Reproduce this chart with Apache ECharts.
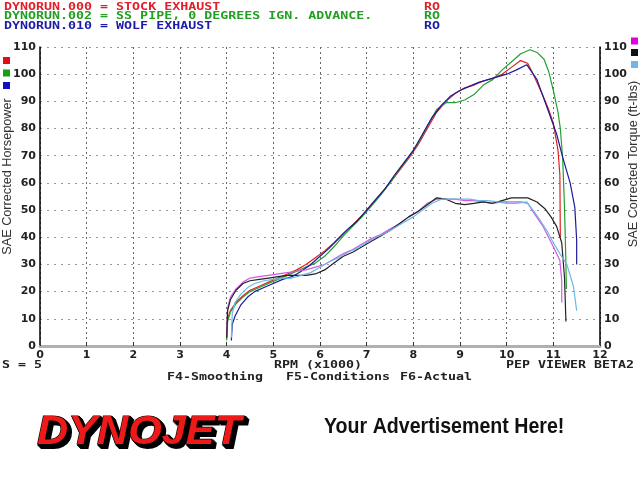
<!DOCTYPE html>
<html><head><meta charset="utf-8">
<script src="https://cdn.jsdelivr.net/npm/echarts@6/dist/echarts.min.js"></script>
<style>html,body{margin:0;padding:0;background:#fff}#c{width:640px;height:480px}</style>
</head><body><div id="c"></div>
<script>
// ---- data ----
const xTicks = [0,1,2,3,4,5,6,7,8,9,10,11,12];
const yTicks = [0,10,20,30,40,50,60,70,80,90,100,110];

const rpmRed = [4.0,4.02,4.08,4.2,4.35,4.5,4.7,4.9,5.1,5.3,5.5,5.7,5.9,6.1,6.3,6.5,6.7,6.9,7.1,7.3,7.5,7.7,7.9,8.1,8.3,8.5,8.7,8.9,9.1,9.3,9.5,9.7,9.9,10.1,10.3,10.45,10.57,10.78,10.9,11.0,11.1,11.14,11.15];
const hpRed  = [3,10,13,16,18.5,20.5,22,23.5,25,26.5,28,30,32.5,35,38,41.5,44.5,48,52,56,60,64.5,69,74,80,86,90,93,95,96,97.5,98.5,100,102.5,105,104,100,92,87,82,72,63,40];

const rpmGreen = [4.0,4.02,4.08,4.2,4.35,4.5,4.7,4.9,5.1,5.3,5.5,5.7,5.9,6.1,6.3,6.5,6.7,6.9,7.1,7.3,7.5,7.7,7.9,8.1,8.3,8.5,8.7,8.9,9.1,9.3,9.5,9.7,9.9,10.1,10.3,10.5,10.65,10.8,10.9,11.0,11.1,11.15,11.2,11.24,11.27,11.28];
const hpGreen  = [2,9,12.5,15.5,18,20,21.5,23,24.5,26,27.5,29,30.5,33,36.5,40.5,44,47.5,51.5,55.5,60,65,69.5,74.5,81,87,89.5,89.5,90.5,92.5,96,98,101.5,104.5,107.5,109,108,105.5,101,94,86,80,69,51,30,21];

const rpmBlue = [4.1,4.12,4.18,4.3,4.45,4.6,4.8,5.0,5.2,5.4,5.6,5.8,6.0,6.2,6.4,6.6,6.8,7.0,7.2,7.4,7.6,7.8,8.0,8.2,8.4,8.6,8.8,9.0,9.2,9.4,9.6,9.8,10.0,10.2,10.43,10.65,10.86,11.07,11.2,11.36,11.46,11.5,11.5];
const hpBlue  = [2,8,11,15,18,20,21.5,23,24.5,25.5,27.5,30,33,36,39.5,43,46,50,54,58,63,67.5,72,78,84,88.5,92,94,95.5,97,98,99,100,101.5,103.5,98,88,78,69.5,60,51,39,30];

const rpmMagenta = [4.0,4.02,4.08,4.2,4.35,4.5,4.7,4.9,5.1,5.3,5.5,5.7,5.9,6.1,6.3,6.5,6.7,6.9,7.1,7.3,7.5,7.7,7.9,8.1,8.3,8.5,8.7,8.9,9.1,9.3,9.5,9.7,9.9,10.1,10.3,10.45,10.6,10.78,11.0,11.14,11.18,11.18];
const tqMagenta  = [4,14,18,21,23.5,25,25.5,26,26.5,27,27.5,28,29,30,32,34,35.5,37.5,39.5,41,43,45,47.5,49.5,52.5,54,54,54,53.5,53.5,53,52.5,53,53,53,52.5,48.5,44,36.5,31.5,24,16];

const rpmBlack = [4.0,4.02,4.08,4.2,4.35,4.5,4.7,4.9,5.1,5.3,5.5,5.7,5.9,6.1,6.3,6.5,6.7,6.9,7.1,7.3,7.5,7.7,7.9,8.1,8.3,8.5,8.7,8.9,9.1,9.3,9.5,9.7,9.9,10.1,10.3,10.45,10.65,10.82,10.95,11.07,11.18,11.24,11.27];
const tqBlack  = [3,13,17,20.5,23,24,24.5,25,25.5,26,26,26,26.5,28,30.5,33,34.5,36.5,38.5,40.5,42.5,45,47.5,49.5,52,54.5,54,52.5,52,52.5,53,52.5,53.5,54.5,54.5,54.5,53,50.5,47.5,44,38,25,9];

const rpmLightBlue = [4.1,4.12,4.18,4.3,4.45,4.6,4.8,5.0,5.2,5.4,5.6,5.8,6.0,6.2,6.4,6.6,6.8,7.0,7.2,7.4,7.6,7.8,8.0,8.2,8.4,8.6,8.8,9.0,9.2,9.4,9.6,9.8,10.0,10.2,10.43,10.65,10.86,11.0,11.14,11.29,11.43,11.5];
const tqLightBlue  = [3,12,16,19,21.5,23,24,24.5,25,25,26,27,29,31,32.5,34.5,36,38,40,41.5,43.5,45.5,47.5,50,52.5,54,54,54,54,53.5,53.5,53,52.5,52.5,53,48,42.5,38,34,30,22,13];

const headerLines = [
  {text:'DYNORUN.000 = STOCK EXHAUST', color:'#e0202a'},
  {text:'DYNORUN.002 = SS PIPE, 0 DEGREES IGN. ADVANCE.', color:'#22a022'},
  {text:'DYNORUN.010 = WOLF EXHAUST', color:'#1c1ca8'}
];

// ---- chart ----
const pairs = (xs, ys) => xs.map((x, i) => [x, ys[i]]);
const chart = echarts.init(document.getElementById('c'), null, {renderer:'canvas'});

const mono = '"DejaVu Sans Mono", monospace';
function bmpText(x, y, text, color, extra) {
  return Object.assign({
    type:'text', x:x, y:y, scaleX:1.33, silent:true,
    style:{x:0, y:0, text:text, fill:color, font:'bold 10px ' + mono, textVerticalAlign:'middle'}
  }, extra || {});
}

const graphics = [];
headerLines.forEach((h, i) => {
  const y = 7 + i * 9.7;
  graphics.push(bmpText(4, y, h.text, h.color));
  graphics.push(bmpText(424, y, 'RO', h.color));
});
graphics.push(bmpText(2, 365, 'S = 5', '#222'));
graphics.push(bmpText(274, 365, 'RPM (x1000)', '#222'));
graphics.push(bmpText(506, 365, 'PEP VIEWER BETA2', '#222'));
graphics.push(bmpText(167, 377, 'F4-Smoothing', '#222'));
graphics.push(bmpText(286, 377, 'F5-Conditions', '#222'));
graphics.push(bmpText(400, 377, 'F6-Actual', '#222'));

// legend squares
[['#e01010',57],['#10a010',69.5],['#1010c0',82]].forEach(s => {
  graphics.push({type:'rect', silent:true, shape:{x:3,y:s[1],width:7,height:7}, style:{fill:s[0]}});
});
[['#e000e0',37.5],['#111111',49],['#70b4ec',61]].forEach(s => {
  graphics.push({type:'rect', silent:true, shape:{x:631,y:s[1],width:7,height:7}, style:{fill:s[0]}});
});

// axis names
graphics.push({type:'text', x:7, y:176.5, rotation:Math.PI/2, silent:true,
  style:{x:0,y:0,text:'SAE Corrected Horsepower', fill:'#333', font:'12.7px "Liberation Sans", Arial', textAlign:'center', textVerticalAlign:'middle'}});
graphics.push({type:'text', x:633, y:164, rotation:Math.PI/2, silent:true,
  style:{x:0,y:0,text:'SAE Corrected Torque (ft-lbs)', fill:'#333', font:'12.7px "Liberation Sans", Arial', textAlign:'center', textVerticalAlign:'middle'}});

// Dynojet logo
for (let k = 4; k >= 1; k--) {
  graphics.push({type:'text', x:37 + k, y:413 + k, scaleX:1.08, silent:true,
    style:{x:0,y:0,text:'DYNOJET', fill:'#000', stroke:'#000', lineWidth:2,
      font:'italic bold 40px "Liberation Sans", Arial', textVerticalAlign:'top'}});
}
graphics.push({type:'text', x:37, y:413, scaleX:1.08, silent:true,
  style:{x:0,y:0,text:'DYNOJET', fill:'#ee1a1a', stroke:'#000', lineWidth:1.2,
    font:'italic bold 40px "Liberation Sans", Arial', textVerticalAlign:'top'}});

graphics.push({type:'text', x:324, y:427, scaleX:0.98, scaleY:1.1, silent:true,
  style:{x:0,y:0,text:'Your Advertisement Here!', fill:'#111',
    font:'bold 20px "Liberation Sans", Arial', textVerticalAlign:'middle'}});

const axLabel = {color:'#222', fontFamily:'"DejaVu Sans"', fontWeight:'bold', fontSize:11};

function line(name, xs, ys, color, yIdx) {
  return {name:name, type:'line', yAxisIndex:yIdx, data:pairs(xs, ys), showSymbol:false,
    symbol:'none', lineStyle:{color:color, width:1.2}, itemStyle:{color:color}, z:3};
}

chart.setOption({
  animation:false,
  backgroundColor:'#fff',
  grid:{left:40, right:40, top:47, bottom:134},
  xAxis:{type:'value', min:0, max:12, interval:1,
    axisLine:{show:true, lineStyle:{color:'#b0b0b0', width:3}},
    axisTick:{show:true, inside:true, length:4, lineStyle:{color:'#333'}},
    axisLabel:Object.assign({margin:4, showMinLabel:true, showMaxLabel:true,
      formatter:v => xTicks.includes(v) ? String(v) : ''}, axLabel),
    splitLine:{show:true, lineStyle:{color:'#666', type:[2,3], width:1}}},
  yAxis:[
    {type:'value', min:0, max:110, interval:10, position:'left',
      axisLine:{show:true, onZero:false, lineStyle:{color:'#000', width:1.5}},
      axisTick:{show:false},
      axisLabel:Object.assign({margin:4, formatter:v => yTicks.includes(v) ? String(v) : ''}, axLabel),
      splitLine:{show:true, lineStyle:{color:'#999', type:[2,5], width:1}}},
    {type:'value', min:0, max:110, interval:10, position:'right',
      axisLine:{show:true, onZero:false, lineStyle:{color:'#000', width:1.5}},
      axisTick:{show:false},
      axisLabel:Object.assign({margin:4, formatter:v => yTicks.includes(v) ? String(v) : ''}, axLabel),
      splitLine:{show:false}}
  ],
  series:[
    line('HP 000', rpmRed, hpRed, '#e02020', 0),
    line('HP 002', rpmGreen, hpGreen, '#20a030', 0),
    line('HP 010', rpmBlue, hpBlue, '#1a1a9a', 0),
    line('TQ 000', rpmMagenta, tqMagenta, '#d25ae6', 1),
    line('TQ 002', rpmBlack, tqBlack, '#222222', 1),
    line('TQ 010', rpmLightBlue, tqLightBlue, '#6ab8e6', 1)
  ],
  graphic:graphics
});
</script></body></html>
